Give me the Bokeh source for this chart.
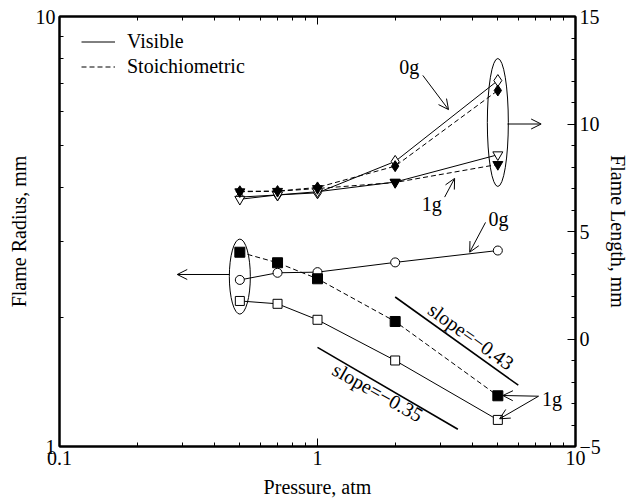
from bokeh.plotting import figure
from bokeh.models import (Range1d, LinearAxis, LogAxis, LinearScale, FixedTicker,
                          CustomJSTickFormatter, Arrow, OpenHead, Label, Legend, LegendItem)
from bokeh.embed import file_html
from bokeh.resources import INLINE

# ---------------- data ----------------
pressure = [0.5, 0.7, 1.0, 2.0, 5.0]

# Flame length (right axis, mm)
len_0g_visible = [6.6, 6.7, 6.8, 8.26, 12.02]
len_0g_stoich = [6.87, 6.88, 7.05, 8.04, 11.56]
len_1g_visible = [6.5, 6.7, 6.85, 7.3, 8.57]
len_1g_stoich = [6.85, 6.87, 7.0, 7.28, 8.12]

# Flame radius (left axis, mm)
rad_0g_visible = [2.44, 2.535, 2.544, 2.68, 2.856]
rad_1g_stoich = [2.83, 2.675, 2.455, 1.953, 1.312]
rad_1g_visible = [2.18, 2.147, 1.971, 1.585, 1.153]

# reference slope lines  r = c * p**slope
slope_a = -0.43
slope_a_c = 3.0
slope_a_p = [2.0, 6.0]
slope_b = -0.35
slope_b_c = 1.7
slope_b_p = [1.0, 3.5]

x_ticks = [0.1, 1, 10]
x_minor = [0.2, 0.3, 0.4, 0.5, 0.6, 0.7, 0.8, 0.9, 2, 3, 4, 5, 6, 7, 8, 9]
y_ticks = [1, 10]
y_minor = [2, 3, 4, 5, 6, 7, 8, 9]
len_ticks = [-5, 0, 5, 10, 15]
len_minor = list(range(-5, 16))

FONT = "Liberation Serif"
FS = "20px"

p = figure(width=634, height=500, x_axis_type="log", y_axis_type="log",
           x_range=Range1d(0.1, 10), y_range=Range1d(1, 10),
           output_backend="svg", toolbar_location=None,
           min_border_left=59, min_border_right=59, min_border_top=16, min_border_bottom=54)
p.extra_y_ranges = {"len": Range1d(-5, 15)}
p.extra_y_scales = {"len": LinearScale()}
p.grid.visible = False
p.background_fill_color = "white"
p.border_fill_color = "white"
p.outline_line_color = "black"
p.outline_line_width = 2


def style(ax):
    ax.axis_line_width = 2
    ax.axis_line_color = "black"
    ax.major_tick_in = 8
    ax.major_tick_out = 0
    ax.minor_tick_in = 4
    ax.minor_tick_out = 0
    ax.major_tick_line_color = "black"
    ax.minor_tick_line_color = "black"
    ax.major_label_text_font = FONT
    ax.major_label_text_font_size = FS
    ax.major_label_text_color = "black"
    ax.axis_label_text_font = FONT
    ax.axis_label_text_font_size = FS
    ax.axis_label_text_font_style = "normal"
    ax.axis_label_text_color = "black"
    ax.major_label_standoff = 4
    ax.axis_label_standoff = 3


num_fmt = CustomJSTickFormatter(code="return tick < 0 ? '\\u2212' + Math.abs(tick) : String(tick);")

xa = p.xaxis[0]
xa.ticker = FixedTicker(ticks=x_ticks, minor_ticks=x_minor)
xa.formatter = num_fmt
xa.axis_label = "Pressure, atm"
style(xa)
xa.axis_label_standoff = 8

ya = p.yaxis[0]
ya.ticker = FixedTicker(ticks=y_ticks, minor_ticks=y_minor)
ya.formatter = num_fmt
ya.axis_label = "Flame Radius, mm"
style(ya)

ra = LinearAxis(y_range_name="len", axis_label="Flame Length, mm",
                ticker=FixedTicker(ticks=len_ticks, minor_ticks=len_minor),
                formatter=num_fmt)
style(ra)
p.add_layout(ra, "right")

ta = LogAxis(ticker=FixedTicker(ticks=x_ticks, minor_ticks=x_minor))
style(ta)
ta.major_label_text_font_size = "1px"
ta.major_label_text_color = None
ta.major_label_standoff = 0
p.add_layout(ta, "above")

DASH = "5 3"

# ---- flame length series (right axis) ----
r_vis = p.line(pressure, len_0g_visible, y_range_name="len", line_color="black", line_width=1)
r_st = p.line(pressure, len_0g_stoich, y_range_name="len", line_color="black", line_width=1,
              line_dash=DASH)
p.line(pressure, len_1g_visible, y_range_name="len", line_color="black", line_width=1)
p.line(pressure, len_1g_stoich, y_range_name="len", line_color="black", line_width=1,
       line_dash=DASH)
p.scatter(pressure, len_0g_visible, y_range_name="len", marker="diamond", size=12,
          fill_color="white", line_color="black", line_width=1)
p.scatter(pressure, len_0g_stoich, y_range_name="len", marker="diamond", size=11,
          fill_color="black", line_color="black", line_width=1)
p.scatter(pressure, len_1g_visible, y_range_name="len", marker="inverted_triangle", size=10,
          fill_color="white", line_color="black", line_width=1)
p.scatter(pressure, len_1g_stoich, y_range_name="len", marker="inverted_triangle", size=10,
          fill_color="black", line_color="black", line_width=1)

# ---- flame radius series (left axis) ----
p.line(pressure, rad_0g_visible, line_color="black", line_width=1)
p.line(pressure, rad_1g_stoich, line_color="black", line_width=1, line_dash=DASH)
p.line(pressure, rad_1g_visible, line_color="black", line_width=1)
p.scatter(pressure, rad_0g_visible, marker="circle", size=9, fill_color="white",
          line_color="black", line_width=1)
p.scatter(pressure, rad_1g_stoich, marker="square", size=10, fill_color="black",
          line_color="black", line_width=1)
p.scatter(pressure, rad_1g_visible, marker="square", size=9, fill_color="white",
          line_color="black", line_width=1)

# ---- slope reference lines ----
p.line(slope_a_p, [slope_a_c * v ** slope_a for v in slope_a_p], line_color="black", line_width=1.6)
p.line(slope_b_p, [slope_b_c * v ** slope_b for v in slope_b_p], line_color="black", line_width=1.6)

# ---- ellipses grouping points ----
top_center = (len_0g_visible[-1] + len_1g_stoich[-1]) / 2
p.ellipse(x=[pressure[-1]], y=[top_center], width=21, height=128, width_units="screen",
          height_units="screen", fill_color=None, line_color="black", line_width=1,
          y_range_name="len")
bot_center = (rad_1g_stoich[0] * rad_1g_visible[0]) ** 0.5
p.ellipse(x=[pressure[0]], y=[bot_center], width=21, height=75, width_units="screen",
          height_units="screen", fill_color=None, line_color="black", line_width=1)


def arrow(x0, y0, x1, y1, **kw):
    p.add_layout(Arrow(end=OpenHead(size=10, line_width=1, line_color="black"),
                       x_start=x0, y_start=y0, x_end=x1, y_end=y1,
                       line_color="black", line_width=1, **kw))


def label(x, y, text, angle=0, **kw):
    p.add_layout(Label(x=x, y=y, text=text, angle=angle, text_align="center",
                       text_baseline="middle", text_font=FONT, text_font_size=FS,
                       text_color="black", **kw))


# arrows pointing to axes
arrow(5.45, 10, 7.36, 10, y_range_name="len")
arrow(0.455, 2.512, 0.286, 2.512)

# top annotations
label(2.27, 12.67, "0g", y_range_name="len")
arrow(2.56, 12.26, 3.22, 10.67, y_range_name="len")
label(2.77, 6.30, "1g", y_range_name="len")
arrow(3.11, 6.60, 3.40, 7.47, y_range_name="len")

# bottom annotations
label(5.03, 3.39, "0g")
arrow(4.48, 3.32, 3.89, 2.83)
label(8.11, 1.293, "1g")
arrow(7.19, 1.309, 5.23, 1.314)
arrow(7.19, 1.309, 5.08, 1.16)

label(3.94, 1.804, "slope=\u22120.43", angle=-0.62)
label(1.713, 1.337, "slope=\u22120.35", angle=-0.51)

legend = Legend(items=[LegendItem(label="Visible", renderers=[r_vis]),
                       LegendItem(label="Stoichiometric", renderers=[r_st])],
                location=(22, 368), border_line_color=None, background_fill_alpha=0,
                label_text_font=FONT, label_text_font_size=FS, label_text_color="black",
                glyph_width=34, glyph_height=23, label_height=23, label_standoff=12,
                padding=5, spacing=2, margin=0)
p.add_layout(legend)

open("out.html", "w").write(file_html(p, INLINE))
